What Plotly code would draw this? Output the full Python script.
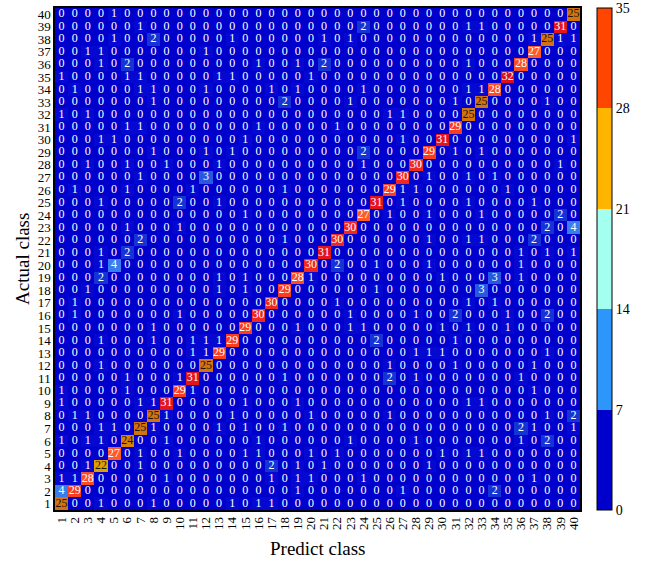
import plotly.graph_objects as go

classes = list(range(1, 41))
class_labels = [str(c) for c in classes]

# counts per actual class (row), predicted classes 1..40 (columns)
actual_1 = [25,0,0,1,0,0,0,1,0,0, 0,0,0,1,0,1,1,0,0,0, 0,0,0,0,0,0,0,0,0,0, 0,0,0,0,0,0,0,0,0,0]
actual_2 = [4,29,0,0,0,0,0,0,0,0, 0,0,0,0,0,0,0,0,1,0, 0,0,0,0,0,0,1,0,0,0, 0,0,0,2,0,0,0,0,0,0]
actual_3 = [1,1,28,0,0,0,0,0,1,0, 0,0,0,0,0,0,1,0,1,1, 0,0,0,1,0,0,0,0,0,0, 0,0,0,0,0,0,1,0,0,0]
actual_4 = [0,0,1,22,0,0,1,0,0,0, 0,0,0,0,0,0,2,0,1,0, 1,0,0,0,0,0,0,0,1,0, 0,0,0,0,0,0,0,0,0,0]
actual_5 = [0,0,0,0,27,0,1,0,0,1, 0,0,0,0,1,1,0,0,0,1, 0,1,0,0,0,0,0,0,0,1, 0,1,1,0,0,0,0,0,0,0]
actual_6 = [1,0,1,1,0,24,0,0,1,0, 0,0,0,0,0,1,0,0,0,0, 0,0,1,0,0,0,0,1,0,0, 0,0,0,0,0,1,0,2,0,0]
actual_7 = [0,0,0,1,1,0,25,1,0,0, 0,0,1,0,1,0,0,1,0,0, 0,0,0,0,0,0,0,0,0,0, 0,0,0,0,0,2,1,0,0,1]
actual_8 = [0,1,1,0,0,0,0,25,1,0, 0,0,0,1,0,0,0,0,0,1, 0,0,0,0,0,1,0,0,0,0, 0,0,0,0,0,0,0,1,0,2]
actual_9 = [1,0,0,0,0,0,1,1,31,0, 0,0,0,0,1,0,0,0,1,0, 0,0,0,0,0,0,0,0,0,0, 0,1,1,0,0,0,0,0,0,0]
actual_10 = [1,0,0,0,0,1,0,0,0,29, 1,0,0,0,0,0,0,0,0,0, 0,0,0,0,0,0,0,0,0,0, 0,0,0,0,0,0,1,0,0,0]
actual_11 = [0,0,0,0,0,1,0,0,0,1, 31,0,0,0,0,0,0,1,0,0, 0,0,0,0,0,2,0,1,0,0, 0,0,0,0,0,1,0,0,0,0]
actual_12 = [0,0,0,1,0,0,0,0,0,0, 0,25,0,0,0,0,0,0,0,0, 0,0,0,0,0,1,0,0,0,0, 1,0,0,0,0,0,1,0,0,0]
actual_13 = [0,0,0,0,0,0,0,0,0,0, 1,1,29,0,0,0,0,0,0,0, 0,0,0,0,0,0,0,1,1,1, 0,0,0,0,0,0,0,1,0,0]
actual_14 = [0,0,0,1,0,0,0,1,0,0, 1,1,1,29,0,0,0,0,0,0, 0,0,0,0,2,0,0,0,0,0, 1,0,0,0,0,0,0,0,0,0]
actual_15 = [0,0,0,0,0,0,0,1,0,0, 0,0,0,0,29,0,0,0,1,0, 0,0,1,1,0,0,0,0,0,1, 0,1,0,0,1,0,0,0,0,0]
actual_16 = [0,1,0,0,0,0,0,0,0,1, 0,0,0,0,0,30,0,0,0,0, 0,0,1,0,0,0,0,1,0,0, 2,0,0,0,1,0,0,2,0,0]
actual_17 = [0,1,0,0,0,0,0,0,0,0, 0,0,0,0,0,0,30,0,0,0, 0,1,0,0,0,0,0,0,0,0, 0,1,0,1,0,0,0,0,0,0]
actual_18 = [0,0,1,0,0,0,0,0,0,0, 0,0,1,0,1,0,0,29,0,0, 0,0,0,0,1,0,0,0,0,0, 0,0,3,0,0,0,0,0,0,0]
actual_19 = [0,0,0,2,0,0,0,0,0,0, 0,0,1,0,1,0,0,0,28,1, 0,0,0,0,0,0,0,0,0,1, 0,0,0,3,0,1,0,0,0,0]
actual_20 = [0,0,0,1,4,0,0,0,0,0, 0,0,0,0,0,0,0,0,0,30, 0,2,0,0,1,0,0,0,1,0, 0,0,0,0,0,1,0,0,0,0]
actual_21 = [0,0,0,1,0,2,0,0,0,0, 0,0,0,0,0,0,0,0,0,0, 31,0,0,0,0,0,0,0,0,0, 0,0,0,0,0,1,0,1,0,1]
actual_22 = [0,0,0,0,0,0,2,0,0,0, 0,0,0,0,0,0,0,1,0,0, 0,30,0,0,0,0,0,0,1,0, 0,1,1,0,0,0,2,0,0,0]
actual_23 = [0,0,0,0,0,1,0,0,0,1, 0,0,0,0,0,0,0,0,0,0, 0,0,30,0,0,0,0,0,0,0, 0,0,0,0,0,0,0,2,0,4]
actual_24 = [0,0,0,0,0,0,0,0,0,0, 0,0,0,0,1,0,0,0,0,0, 0,0,0,27,0,1,0,0,1,0, 0,0,1,0,0,0,0,0,2,0]
actual_25 = [0,0,0,1,0,0,0,0,0,2, 0,0,1,0,0,0,0,0,0,0, 0,0,0,0,31,0,1,0,0,0, 0,1,0,0,0,0,1,0,0,0]
actual_26 = [0,1,0,0,0,1,0,0,0,0, 1,0,0,0,0,0,0,1,0,0, 0,0,0,0,0,29,1,1,0,0, 0,0,0,0,1,0,0,0,0,0]
actual_27 = [0,0,0,0,0,0,1,0,0,0, 0,3,0,0,0,0,0,0,0,0, 0,0,0,0,0,0,30,0,1,0, 0,1,0,1,0,0,0,0,0,0]
actual_28 = [0,0,1,0,0,1,0,0,1,0, 0,0,1,0,0,0,0,0,0,0, 0,0,0,1,0,0,0,30,0,0, 0,0,0,0,0,0,0,0,1,0]
actual_29 = [0,0,0,0,0,0,0,1,0,0, 0,1,0,1,0,0,0,0,0,0, 0,0,0,2,0,0,0,0,29,0, 1,0,1,0,0,0,0,0,0,0]
actual_30 = [0,0,0,1,1,0,0,0,0,0, 0,0,0,0,1,0,0,0,0,0, 0,0,0,0,0,0,1,0,0,31, 0,0,0,0,0,0,0,0,0,1]
actual_31 = [0,0,0,0,0,1,1,0,0,0, 0,0,0,0,0,1,0,0,0,0, 0,1,0,0,0,0,0,0,0,0, 29,0,0,0,0,0,0,0,0,0]
actual_32 = [1,0,1,0,0,0,0,0,0,0, 0,0,0,0,0,0,0,0,0,0, 0,0,0,0,0,1,1,0,0,0, 0,25,0,0,0,0,0,0,0,0]
actual_33 = [0,0,0,0,0,0,0,1,0,0, 0,0,0,0,0,0,0,2,0,0, 0,0,1,0,0,0,0,0,0,0, 1,0,25,0,0,0,0,1,0,0]
actual_34 = [0,1,0,0,0,0,1,1,0,0, 0,1,0,0,0,0,1,0,1,0, 0,0,0,1,0,0,0,0,0,0, 0,1,1,28,0,0,0,0,0,0]
actual_35 = [1,0,0,0,0,1,1,0,0,0, 0,0,1,1,0,0,0,0,0,1, 0,0,0,0,0,0,0,0,0,0, 0,0,0,0,32,0,0,0,0,0]
actual_36 = [0,0,0,1,0,2,0,0,0,0, 0,0,0,0,0,1,0,0,1,0, 2,0,0,0,0,0,0,0,0,0, 0,1,0,0,0,28,0,0,0,0]
actual_37 = [0,0,1,1,0,0,0,0,0,0, 0,1,0,0,0,0,0,0,0,0, 0,0,0,0,0,0,0,0,0,0, 0,0,0,0,0,0,27,0,0,0]
actual_38 = [0,0,0,0,1,0,0,2,0,0, 0,0,0,1,0,0,0,0,0,0, 1,0,1,0,0,0,0,0,0,0, 0,0,0,0,0,0,1,25,1,1]
actual_39 = [0,0,0,0,0,0,1,0,0,0, 0,0,0,0,0,0,0,0,0,0, 0,0,0,2,0,0,0,0,0,0, 0,1,1,0,0,0,0,0,31,0]
actual_40 = [0,0,0,0,1,0,0,0,0,0, 0,0,0,0,0,0,0,0,0,0, 0,0,0,0,0,0,0,0,0,0, 0,0,0,0,0,0,0,0,0,25]

colorbar_ticks = [0, 7, 14, 21, 28, 35]

matrix = [actual_1, actual_2, actual_3, actual_4, actual_5, actual_6, actual_7, actual_8,
          actual_9, actual_10, actual_11, actual_12, actual_13, actual_14, actual_15, actual_16,
          actual_17, actual_18, actual_19, actual_20, actual_21, actual_22, actual_23, actual_24,
          actual_25, actual_26, actual_27, actual_28, actual_29, actual_30, actual_31, actual_32,
          actual_33, actual_34, actual_35, actual_36, actual_37, actual_38, actual_39, actual_40]

ZMAX = 35.0
def s(v):
    return v / ZMAX

cell_scale = [
    [0.0, "rgb(0,0,205)"],
    [s(1), "rgb(4,8,208)"],
    [s(2), "rgb(22,52,212)"],
    [s(4), "rgb(55,125,235)"],
    [s(7), "rgb(60,160,255)"],
    [s(14), "rgb(170,255,240)"],
    [s(21), "rgb(235,175,0)"],
    [s(22), "rgb(225,160,0)"],
    [s(25), "rgb(210,115,15)"],
    [s(27), "rgb(255,90,40)"],
    [s(29), "rgb(250,60,35)"],
    [s(31), "rgb(228,20,30)"],
    [1.0, "rgb(190,0,20)"],
]

band_colors = ["rgb(0,0,205)", "rgb(45,150,250)", "rgb(165,255,240)", "rgb(255,180,0)", "rgb(255,70,0)"]
bar_scale = []
for i, c in enumerate(band_colors):
    bar_scale.append([i / 5, c])
    bar_scale.append([(i + 1) / 5, c])

fig = go.Figure()
fig.add_trace(go.Heatmap(
    z=matrix, x=classes, y=classes,
    colorscale=cell_scale, zmin=0, zmax=ZMAX,
    showscale=False, hoverinfo="skip",
))

tx, ty, tt, tc = [], [], [], []
for r, row in zip(classes, matrix):
    for c, v in zip(classes, row):
        tx.append(c)
        ty.append(r)
        tt.append(str(v))
        tc.append("rgb(30,20,10)" if 20 <= v <= 26 else "white")

fig.add_trace(go.Scatter(
    x=tx, y=ty, text=tt, mode="text",
    textfont=dict(family="Liberation Serif", size=12, color=tc),
    hoverinfo="skip", showlegend=False,
))

fig.add_trace(go.Scatter(
    x=[None, None], y=[None, None], mode="markers", showlegend=False, hoverinfo="skip",
    marker=dict(
        color=[0, ZMAX], cmin=0, cmax=ZMAX, colorscale=bar_scale, showscale=True,
        colorbar=dict(
            x=1.0324, xanchor="left", xpad=0, y=0.5, yanchor="middle", len=1.0, lenmode="fraction",
            ypad=0, thickness=15, outlinecolor="black", outlinewidth=1,
            tickvals=colorbar_ticks, ticktext=[str(t) for t in colorbar_ticks],
            ticks="",
            tickfont=dict(family="Liberation Serif", size=14, color="black"),
        ),
    ),
))

axis_common = dict(
    range=[0.5, 40.5], tickvals=classes, ticktext=class_labels,
    showgrid=False, zeroline=False, showline=True, mirror=True,
    linecolor="black", linewidth=1.5, ticks="", automargin=False,
    tickfont=dict(family="Liberation Serif", size=13, color="black"),
)

title_font = dict(family="Liberation Serif", size=19, color="black")

fig.update_layout(
    width=665, height=563,
    margin=dict(l=55, r=85, t=8, b=53, autoexpand=False),
    paper_bgcolor="white", plot_bgcolor="white",
    showlegend=False,
    xaxis=dict(**axis_common, tickangle=-90),
    yaxis=dict(**axis_common),
    annotations=[
        dict(text="Predict class", xref="paper", yref="paper", x=0.5, y=-0.0757,
             xanchor="center", yanchor="middle", showarrow=False, font=title_font),
        dict(text="Actual class", xref="paper", yref="paper", x=-0.063, y=0.5,
             xanchor="center", yanchor="middle", textangle=-90, showarrow=False, font=title_font),
    ],
)

fig.write_html("out.html", config={"displayModeBar": False},
               post_script="document.body.style.margin='0px';")
